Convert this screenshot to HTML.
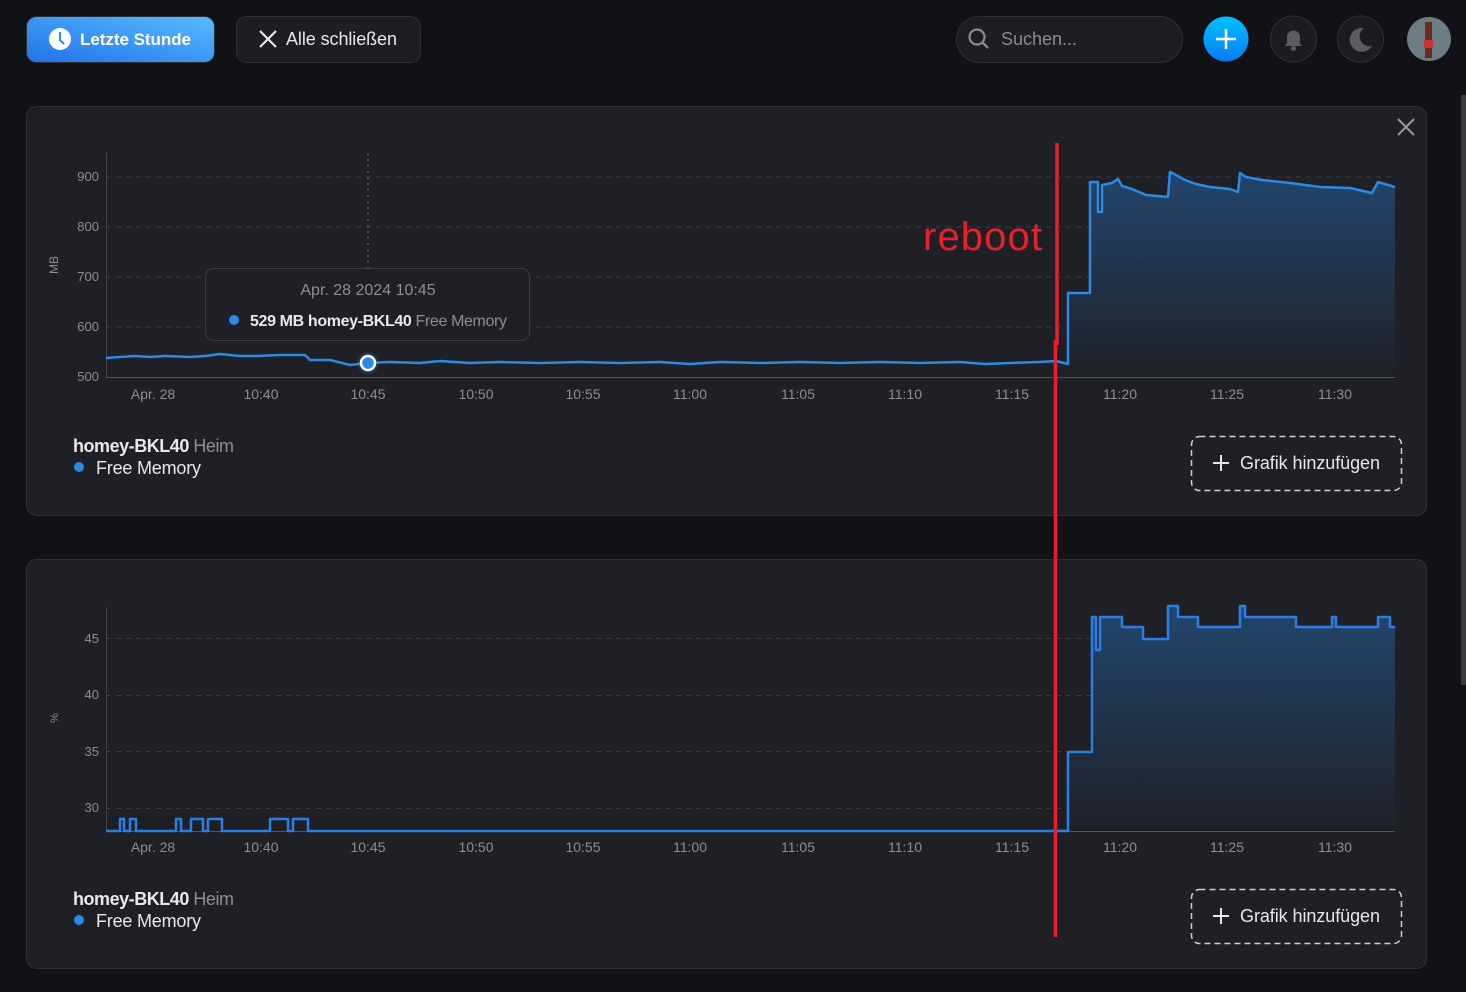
<!DOCTYPE html>
<html><head><meta charset="utf-8"><style>
html,body{margin:0;padding:0;background:#111217;width:1466px;height:992px;overflow:hidden;font-family:"Liberation Sans",sans-serif}
</style></head><body>
<svg width="1466" height="992" xmlns="http://www.w3.org/2000/svg" style="position:absolute;left:0;top:0" font-family="Liberation Sans, sans-serif">
<defs>
<linearGradient id="bg" x1="0" y1="1" x2="1" y2="0"><stop offset="0" stop-color="#2272ea"/><stop offset="1" stop-color="#58bcff"/></linearGradient>
<linearGradient id="pl" x1="0" y1="0" x2="0" y2="1"><stop offset="0" stop-color="#00c2ff"/><stop offset="1" stop-color="#0a7af5"/></linearGradient>
<linearGradient id="fa" x1="0" y1="0" x2="0" y2="1"><stop offset="0" stop-color="#22456d"/><stop offset="1" stop-color="#1f2026"/></linearGradient>
</defs>
<rect width="1466" height="992" fill="#111217"/>
<rect x="1461" y="95" width="5" height="590" fill="#3a3b40"/>
<rect x="26.5" y="16.5" width="188" height="46" rx="10" fill="url(#bg)" stroke="#2f3036"/>
<circle cx="60" cy="39" r="11" fill="#fff"/><path d="M60 32v8l4 4" stroke="#3a8af0" stroke-width="2.2" fill="none"/>
<text x="80" y="45" fill="#fff" font-size="17" font-weight="bold" textLength="111">Letzte Stunde</text>
<rect x="236.5" y="16.5" width="184" height="46" rx="10" fill="#1d1e23" stroke="#2f3036"/>
<path d="M260 31l16 16M276 31l-16 16" stroke="#e6e6e6" stroke-width="2.2"/>
<text x="286" y="45" fill="#e8e8e8" font-size="18" textLength="111">Alle schließen</text>
<rect x="956.5" y="16.5" width="226" height="46" rx="23" fill="#1d1e23" stroke="#2f3036"/>
<circle cx="977" cy="37" r="7.5" fill="none" stroke="#8a8b90" stroke-width="2.2"/><path d="M982 42l6 6" stroke="#8a8b90" stroke-width="2.5"/>
<text x="1001" y="45" fill="#8a8b90" font-size="18">Suchen...</text>
<circle cx="1226" cy="39" r="22.5" fill="url(#pl)"/><path d="M1226 29v20M1216 39h20" stroke="#fff" stroke-width="2.5"/>
<circle cx="1293.5" cy="39" r="23" fill="#1b1c21" stroke="#2f3036"/>
<path d="M1285 46h17l-2-3v-6a6 6 0 0 0-13 0v6z" fill="#5b5c61"/><circle cx="1293.5" cy="48.5" r="2.5" fill="#5b5c61"/>
<circle cx="1360.5" cy="39" r="23" fill="#1b1c21" stroke="#2f3036"/>
<path d="M1364 28a12 12 0 1 0 8 18a10 10 0 0 1-8-18z" fill="#5b5c61"/>
<circle cx="1429" cy="39" r="22" fill="#6d7d85"/><rect x="1425" y="22" width="7" height="36" fill="#6b2a1a"/><rect x="1424" y="40" width="9" height="8" fill="#c33"/>
<rect x="26.5" y="106.5" width="1400" height="409" rx="10" fill="#1f2026" stroke="#2f3036"/>
<path d="M1398 119l16 16M1414 119l-16 16" stroke="#9a9ba0" stroke-width="2"/>
<g stroke="#3a3b40" stroke-dasharray="5 5" stroke-width="1">
<line x1="106" y1="177" x2="1395" y2="177"/><line x1="106" y1="227" x2="1395" y2="227"/><line x1="106" y1="277" x2="1395" y2="277"/><line x1="106" y1="327" x2="1395" y2="327"/></g>
<line x1="106.5" y1="153" x2="106.5" y2="378" stroke="#444" />
<line x1="106" y1="377.5" x2="1395" y2="377.5" stroke="#555"/>
<g fill="#8d8e93" font-size="13" text-anchor="end"><text x="99" y="181">900</text><text x="99" y="231">800</text><text x="99" y="281">700</text><text x="99" y="331">600</text><text x="99" y="381">500</text></g>
<text transform="translate(58,265) rotate(-90)" fill="#8d8e93" font-size="12" text-anchor="middle">MB</text>
<g fill="#8d8e93" font-size="14" text-anchor="middle"><text x="153" y="399">Apr. 28</text><text x="261" y="399">10:40</text><text x="368" y="399">10:45</text><text x="476" y="399">10:50</text><text x="583" y="399">10:55</text><text x="690" y="399">11:00</text><text x="798" y="399">11:05</text><text x="905" y="399">11:10</text><text x="1012" y="399">11:15</text><text x="1120" y="399">11:20</text><text x="1227" y="399">11:25</text><text x="1335" y="399">11:30</text></g>
<path d="M1058 365H1068V293H1090V182H1098V212H1102V185L1112 183L1118 179L1122 186L1132 189L1146 195L1168 197L1170 172L1176 175L1185 180L1196 184L1210 187L1230 189L1238 192L1240 173L1246 177L1262 180L1290 183L1320 187L1350 188L1372 193L1378 182L1395 187V377H1058Z" fill="url(#fa)"/>
<path d="M106 358L120 357L135 356L150 357L165 356L190 357L205 356L220 354L240 356L255 356L280 355L305 355L310 360L330 360L350 365L368 363L390 362L420 363L440 361L470 363L500 362L540 363L580 362L620 363L660 362L690 364L720 362L760 363L800 362L840 363L880 362L920 363L960 362L985 364L1010 363L1040 362L1056 361L1068 364V293H1090V182H1098V212H1102V185L1112 183L1118 179L1122 186L1132 189L1146 195L1168 197L1170 172L1176 175L1185 180L1196 184L1210 187L1230 189L1238 192L1240 173L1246 177L1262 180L1290 183L1320 187L1350 188L1372 193L1378 182L1395 187" fill="none" stroke="#2a8ae6" stroke-width="2.5" stroke-linejoin="round"/>
<line x1="368" y1="153" x2="368" y2="268" stroke="#777" stroke-dasharray="2 4"/>
<circle cx="368" cy="363" r="11" fill="#2a8ae6" opacity="0.2"/><circle cx="368" cy="363" r="7" fill="#2a8ae6" stroke="#fff" stroke-width="2.5"/>
<rect x="205.5" y="268.5" width="324" height="72" rx="8" fill="#1f2026" stroke="#3a3b40"/>
<text x="368" y="295" fill="#8d8e93" font-size="16" text-anchor="middle">Apr. 28 2024 10:45</text>
<circle cx="234" cy="320" r="5" fill="#2a8ae6"/>
<text x="250" y="326" fill="#e8e8e8" font-size="16" textLength="257"><tspan font-weight="bold">529 MB homey-BKL40</tspan><tspan fill="#8d8e93"> Free Memory</tspan></text>
<text x="73" y="452" fill="#e8e8e8" font-size="18" textLength="161"><tspan font-weight="bold">homey-BKL40</tspan><tspan fill="#8d8e93"> Heim</tspan></text>
<circle cx="79" cy="467" r="5" fill="#2a8ae6"/><text x="96" y="474" fill="#e8e8e8" font-size="18" textLength="105">Free Memory</text>
<rect x="1191.5" y="436.5" width="210" height="54" rx="8" fill="none" stroke="#cfcfcf" stroke-width="1.5" stroke-dasharray="6 4"/>
<path d="M1221 455v16M1213 463h16" stroke="#e8e8e8" stroke-width="2"/>
<text x="1240" y="469" fill="#e8e8e8" font-size="18" textLength="140">Grafik hinzufügen</text>
<rect x="26.5" y="559.5" width="1400" height="409" rx="10" fill="#1f2026" stroke="#2f3036"/>
<g stroke="#3a3b40" stroke-dasharray="5 5"><line x1="106" y1="638.5" x2="1395" y2="638.5"/><line x1="106" y1="695.5" x2="1395" y2="695.5"/><line x1="106" y1="751.5" x2="1395" y2="751.5"/><line x1="106" y1="808.5" x2="1395" y2="808.5"/></g>
<line x1="106.5" y1="607" x2="106.5" y2="831" stroke="#444"/>
<line x1="106" y1="831.5" x2="1395" y2="831.5" stroke="#555"/>
<g fill="#8d8e93" font-size="13" text-anchor="end"><text x="99" y="643">45</text><text x="99" y="699">40</text><text x="99" y="756">35</text><text x="99" y="812">30</text></g>
<text transform="translate(58,718) rotate(-90)" fill="#8d8e93" font-size="11" text-anchor="middle">%</text>
<g fill="#8d8e93" font-size="14" text-anchor="middle"><text x="153" y="852">Apr. 28</text><text x="261" y="852">10:40</text><text x="368" y="852">10:45</text><text x="476" y="852">10:50</text><text x="583" y="852">10:55</text><text x="690" y="852">11:00</text><text x="798" y="852">11:05</text><text x="905" y="852">11:10</text><text x="1012" y="852">11:15</text><text x="1120" y="852">11:20</text><text x="1227" y="852">11:25</text><text x="1335" y="852">11:30</text></g>
<path d="M1068 831V752H1092V617H1096V650H1100V617H1122V627H1143V639H1168V606H1178V617H1198V627H1240V606H1245V617H1296V627H1332V617H1336V627H1378V617H1390V627H1395V831Z" fill="url(#fa)"/>
<path d="M106 831H120V819H124V831H130V819H136V831H176V819H181V831H191V819H203V831H208V819H222V831H270V819H288V831H293V819H308V831H1068V752H1092V617H1096V650H1100V617H1122V627H1143V639H1168V606H1178V617H1198V627H1240V606H1245V617H1296V627H1332V617H1336V627H1378V617H1390V627H1395" fill="none" stroke="#2a7ee6" stroke-width="2.5" stroke-linejoin="round"/>
<text x="73" y="905" fill="#e8e8e8" font-size="18" textLength="161"><tspan font-weight="bold">homey-BKL40</tspan><tspan fill="#8d8e93"> Heim</tspan></text>
<circle cx="79" cy="920" r="5" fill="#2a8ae6"/><text x="96" y="927" fill="#e8e8e8" font-size="18" textLength="105">Free Memory</text>
<rect x="1191.5" y="889.5" width="210" height="54" rx="8" fill="none" stroke="#cfcfcf" stroke-width="1.5" stroke-dasharray="6 4"/>
<path d="M1221 908v16M1213 916h16" stroke="#e8e8e8" stroke-width="2"/>
<text x="1240" y="922" fill="#e8e8e8" font-size="18" textLength="140">Grafik hinzufügen</text>
<path d="M1057 143V345M1055.5 340V937" stroke="#e8202a" stroke-width="3.5"/>
<text x="923" y="250" fill="#e8202a" font-size="40" textLength="119">reboot</text>
</svg>
</body></html>
